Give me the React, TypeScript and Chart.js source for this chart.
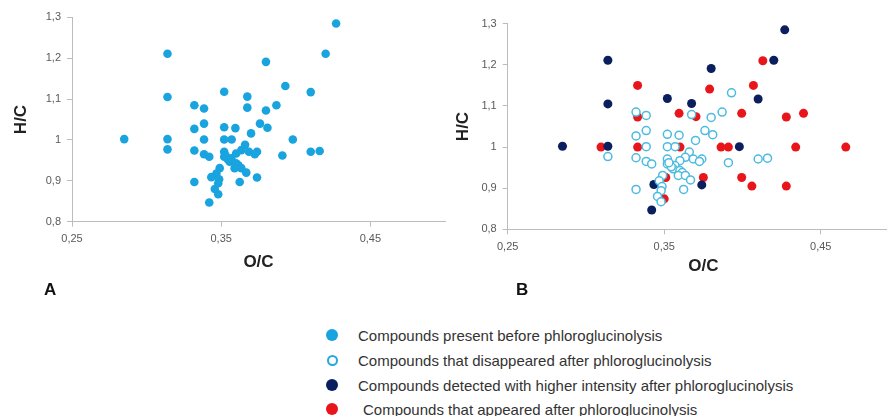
import React, { useEffect, useRef } from 'react';
import { Chart, registerables } from 'chart.js';

Chart.register(...registerables);

// ---------- data ----------
const xTicks = [0.25, 0.35, 0.45];
const yTicks = [0.8, 0.9, 1.0, 1.1, 1.2, 1.3];
const xRange = [0.25, 0.5];
const yRange = [0.8, 1.3];

// Panel A: compounds present before phloroglucinolysis (O/C, H/C)
const presentBefore: [number, number][] = [
  [0.285, 1.002], [0.314, 1.211], [0.314, 1.105], [0.314, 1.002], [0.314, 0.977],
  [0.427, 1.285], [0.42, 1.211], [0.38, 1.191], [0.393, 1.132], [0.41, 1.117],
  [0.398, 1.001], [0.391, 0.962], [0.41, 0.971], [0.416, 0.973],
  [0.352, 1.118], [0.3675, 1.106], [0.332, 1.085], [0.3385, 1.077], [0.3675, 1.079], [0.387, 1.085], [0.38, 1.072],
  [0.3385, 1.04], [0.332, 1.027], [0.352, 1.031], [0.3595, 1.029], [0.376, 1.04], [0.381, 1.03], [0.37, 1.016],
  [0.3385, 1.001], [0.352, 1.001], [0.357, 1.001],
  [0.332, 0.974], [0.3385, 0.965], [0.342, 0.959],
  [0.366, 0.988], [0.3635, 0.975], [0.3686, 0.971], [0.374, 0.971], [0.3725, 0.965], [0.36, 0.967],
  [0.352, 0.971], [0.352, 0.959], [0.3568, 0.955], [0.3557, 0.947], [0.36, 0.943], [0.3545, 0.952], [0.353, 0.962], [0.3615, 0.938],
  [0.359, 0.931], [0.3635, 0.931], [0.3668, 0.92], [0.349, 0.931], [0.3468, 0.918], [0.3434, 0.909], [0.3486, 0.904], [0.348, 0.894],
  [0.332, 0.897], [0.3624, 0.897], [0.374, 0.908], [0.3457, 0.88], [0.348, 0.867], [0.342, 0.847],
];

// Panel B: compounds that disappeared after phloroglucinolysis (open circles)
const disappeared: [number, number][] = [
  [0.314, 0.977], [0.393, 1.132], [0.391, 0.962], [0.41, 0.971], [0.416, 0.973],
  [0.332, 1.085], [0.3385, 1.077], [0.3675, 1.079], [0.387, 1.085], [0.38, 1.072],
  [0.3385, 1.04], [0.332, 1.027], [0.352, 1.031], [0.3595, 1.029], [0.376, 1.04], [0.381, 1.03], [0.37, 1.016],
  [0.3385, 1.001], [0.352, 1.001], [0.357, 1.001],
  [0.332, 0.974], [0.3385, 0.965], [0.342, 0.959],
  [0.366, 0.988], [0.3635, 0.975], [0.3686, 0.971], [0.374, 0.971], [0.3725, 0.965], [0.36, 0.967],
  [0.352, 0.971], [0.352, 0.959], [0.3568, 0.955], [0.3557, 0.947], [0.36, 0.943], [0.3545, 0.952], [0.353, 0.962], [0.3615, 0.938],
  [0.359, 0.931], [0.3635, 0.931], [0.3668, 0.92], [0.349, 0.931], [0.3468, 0.918], [0.3486, 0.904], [0.348, 0.894],
  [0.332, 0.897], [0.3624, 0.897], [0.3457, 0.88], [0.348, 0.867],
];

// Panel B: compounds detected with higher intensity after phloroglucinolysis
const higherIntensity: [number, number][] = [
  [0.285, 1.002], [0.314, 1.211], [0.314, 1.105], [0.314, 1.002], [0.427, 1.285],
  [0.42, 1.211], [0.38, 1.191], [0.352, 1.118], [0.3675, 1.106], [0.41, 1.117],
  [0.398, 1.001], [0.374, 0.908], [0.3434, 0.909], [0.342, 0.847],
];

// Panel B: compounds that appeared after phloroglucinolysis
const appeared: [number, number][] = [
  [0.3096, 1.0], [0.333, 1.15], [0.333, 1.073], [0.333, 1.0], [0.413, 1.21],
  [0.379, 1.141], [0.407, 1.15], [0.3595, 1.082], [0.3703, 1.074], [0.3995, 1.082],
  [0.428, 1.073], [0.439, 1.082], [0.3601, 1.0], [0.3863, 1.0], [0.391, 1.0],
  [0.434, 1.0], [0.466, 1.0], [0.375, 0.926], [0.3995, 0.926], [0.406, 0.905],
  [0.428, 0.905], [0.35, 0.874], [0.351, 0.926],
];

const legendLabels = [
  'Compounds present before phloroglucinolysis',
  'Compounds that disappeared after phloroglucinolysis',
  'Compounds detected with higher intensity after phloroglucinolysis',
  'Compounds that appeared after phloroglucinolysis',
];
const xTitle = 'O/C';
const yTitle = 'H/C';
const panelLabels = ['A', 'B'];

// ---------- styles ----------
const BLUE = '#19a3df';
const OPEN = '#4cbbdf';
const NAVY = '#0b1f5e';
const RED = '#e8161b';
const AXIS = '#bcbcbc';
const TICK_TEXT = '#595959';
const FONT = '"Liberation Sans", Arial, sans-serif';

const fmt = (v: number) => String(Math.round(v * 100) / 100).replace('.', ',');
const pts = (a: [number, number][]) => a.map(([x, y]) => ({ x, y }));

function axis(kind: 'x' | 'y', size: number, titlePad: number) {
  const isX = kind === 'x';
  const tickVals = isX ? xTicks : yTicks;
  const range = isX ? xRange : yRange;
  return {
    type: 'linear',
    position: isX ? 'bottom' : 'left',
    min: range[0],
    max: range[1],
    afterBuildTicks: (s: any) => {
      s.ticks = tickVals.map((v) => ({ value: v }));
    },
    afterFit: (s: any) => {
      if (isX) s.height = size;
      else s.width = size;
    },
    grid: {
      display: true,
      drawOnChartArea: false,
      drawTicks: true,
      tickLength: 5,
      color: AXIS,
      lineWidth: 1,
    },
    border: { display: true, color: AXIS, width: 1 },
    ticks: {
      color: TICK_TEXT,
      font: { family: FONT, size: 11 },
      padding: 6,
      autoSkip: false,
      maxRotation: 0,
      callback: (v: any) => fmt(Number(v)),
    },
    title: {
      display: true,
      text: isX ? xTitle : yTitle,
      color: '#222',
      font: { family: FONT, size: 17, weight: 'bold' },
      padding: isX ? { top: 0, bottom: titlePad } : { top: titlePad, bottom: 0 },
    },
  };
}

function baseOptions(pad: { top: number; right: number }, xs: any, ys: any) {
  return {
    animation: false,
    responsive: false,
    maintainAspectRatio: false,
    events: [],
    layout: { padding: { top: pad.top, right: pad.right, bottom: 0, left: 0 } },
    plugins: { legend: { display: false }, tooltip: { enabled: false }, title: { display: false } },
    scales: { x: xs, y: ys },
  };
}

export default function App() {
  const refA = useRef<HTMLCanvasElement>(null);
  const refB = useRef<HTMLCanvasElement>(null);

  useEffect(() => {
    const chartA = new Chart(refA.current as HTMLCanvasElement, {
      type: 'scatter',
      data: {
        datasets: [
          {
            label: legendLabels[0],
            data: pts(presentBefore),
            pointRadius: 4.3,
            pointBackgroundColor: BLUE,
            pointBorderWidth: 0,
            borderWidth: 0,
          },
        ],
      },
      options: baseOptions({ top: 17.3, right: 15 }, axis('x', 78.3, 27), axis('y', 72, 11)) as any,
    });

    const chartB = new Chart(refB.current as HTMLCanvasElement, {
      type: 'scatter',
      data: {
        datasets: [
          {
            label: legendLabels[3],
            data: pts(appeared),
            order: 3,
            pointRadius: 4.5,
            pointBackgroundColor: RED,
            pointBorderWidth: 0,
            borderWidth: 0,
          },
          {
            label: legendLabels[2],
            data: pts(higherIntensity),
            order: 2,
            pointRadius: 4.5,
            pointBackgroundColor: NAVY,
            pointBorderWidth: 0,
            borderWidth: 0,
          },
          {
            label: legendLabels[1],
            data: pts(disappeared),
            order: 1,
            pointRadius: 4,
            pointBackgroundColor: '#ffffff',
            pointBorderColor: OPEN,
            pointBorderWidth: 1.5,
          },
        ],
      },
      options: baseOptions({ top: 23.7, right: 16 }, axis('x', 70.7, 23), axis('y', 67.7, 13.5)) as any,
    });

    return () => {
      chartA.destroy();
      chartB.destroy();
    };
  }, []);

  const dot = (fill: string, border?: string): React.CSSProperties => ({
    position: 'absolute',
    boxSizing: 'border-box',
    width: border ? 11 : 12,
    height: border ? 11 : 12,
    borderRadius: '50%',
    background: fill,
    border: border ? `2.5px solid ${border}` : 'none',
  });

  const legendRows = [
    { top: 327, cy: 335, textLeft: 358, marker: dot(BLUE) },
    { top: 352.3, cy: 360, textLeft: 358, marker: dot('#fff', '#21a9e0') },
    { top: 377, cy: 385.2, textLeft: 358, marker: dot(NAVY) },
    { top: 400.6, cy: 408.5, textLeft: 363, marker: dot(RED) },
  ];

  const labelStyle: React.CSSProperties = {
    position: 'absolute',
    fontFamily: FONT,
    fontWeight: 'bold',
    fontSize: 17,
    lineHeight: '20px',
    color: '#111',
    whiteSpace: 'nowrap',
  };

  return (
    <div
      style={{
        position: 'absolute',
        left: 0,
        top: 0,
        width: 887,
        height: 416,
        overflow: 'hidden',
        background: '#fff',
      }}
    >
      <canvas ref={refA} width={460} height={300} style={{ position: 'absolute', left: 0, top: 0 }} />
      <canvas ref={refB} width={475} height={300} style={{ position: 'absolute', left: 440, top: 0 }} />
      <div style={{ ...labelStyle, left: 44, top: 280 }}>{panelLabels[0]}</div>
      <div style={{ ...labelStyle, left: 516, top: 280 }}>{panelLabels[1]}</div>
      {legendRows.map((r, i) => {
        const size = (r.marker.width as number) || 12;
        return (
          <React.Fragment key={i}>
            <span style={{ ...r.marker, left: 332 - size / 2, top: r.cy - size / 2 }} />
            <div
              style={{
                position: 'absolute',
                left: r.textLeft,
                top: r.top,
                fontFamily: FONT,
                fontSize: 15,
                lineHeight: '17px',
                color: '#333',
                whiteSpace: 'nowrap',
              }}
            >
              {legendLabels[i]}
            </div>
          </React.Fragment>
        );
      })}
    </div>
  );
}
